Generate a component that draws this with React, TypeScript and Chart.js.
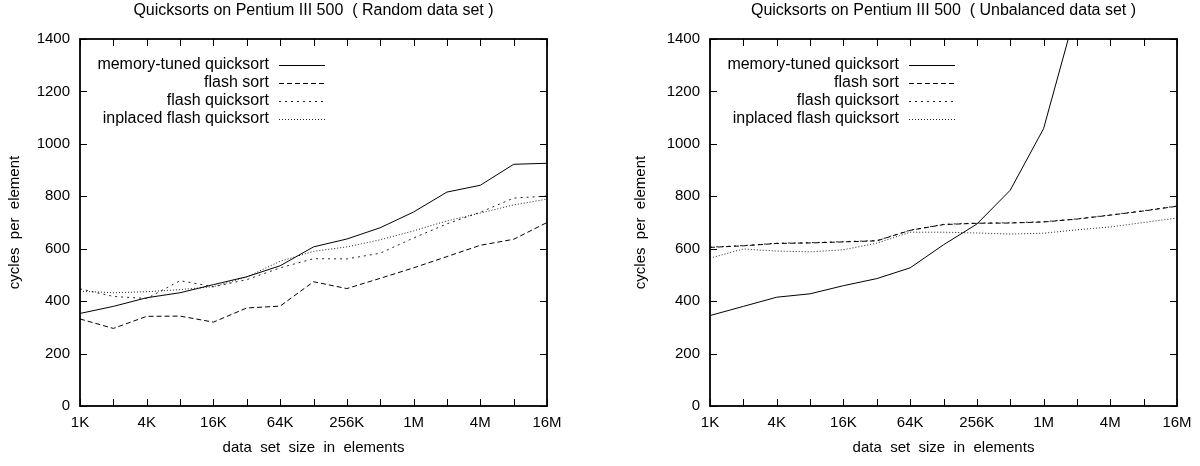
import React, { useEffect, useRef } from 'react';
import { Chart, registerables } from 'chart.js';

Chart.register(...registerables);

const FONT = '"Liberation Sans", Arial, Helvetica, sans-serif';

// x categories (data set size, powers of two)
const sizeLabels = ['1K', '2K', '4K', '8K', '16K', '32K', '64K', '128K', '256K', '512K', '1M', '2M', '4M', '8M', '16M'];

const seriesNames = ['memory-tuned quicksort', 'flash sort', 'flash quicksort', 'inplaced flash quicksort'];

// Random data set
const randomMemoryTuned = [353, 380, 413, 432, 463, 493, 535, 607, 637, 680, 740, 816, 842, 922, 926];
const randomFlashSort = [332, 296, 342, 343, 320, 374, 381, 474, 448, 487, 527, 570, 613, 636, 700];
const randomFlashQuick = [447, 418, 410, 478, 455, 482, 527, 562, 561, 583, 641, 695, 739, 793, 801];
const randomInplaced = [438, 432, 436, 444, 455, 492, 552, 590, 607, 634, 668, 706, 736, 767, 789];

// Unbalanced data set
const unbMemoryTuned = [345, 380, 415, 428, 459, 486, 527, 615, 694, 823, 1058, 1520, null, null, null];
const unbFlashSort = [605, 611, 620, 622, 626, 630, 670, 692, 697, 698, 702, 713, 728, 744, 762];
const unbFlashQuick = [606, 612, 621, 623, 627, 631, 671, 693, 698, 699, 703, 714, 729, 745, 763];
const unbInplaced = [564, 599, 591, 588, 596, 621, 663, 663, 660, 656, 659, 672, 683, 700, 717];

const titleRandom = 'Quicksorts on Pentium III 500  ( Random data set )';
const titleUnbalanced = 'Quicksorts on Pentium III 500  ( Unbalanced data set )';
const xTitle = 'data  set  size  in  elements';
const yTitle = 'cycles  per  element';

const lineStyles = [
  { dash: [] as number[], color: '#000' },
  { dash: [5, 3], color: '#000' },
  { dash: [2, 4], color: '#222' },
  { dash: [1, 2], color: '#222' },
];

function decorPlugin(titleText: string) {
  return {
    id: 'decor',
    afterDatasetsDraw(chart: any) {
      const { ctx, chartArea: a, scales } = chart;
      ctx.save();
      ctx.strokeStyle = '#000';
      // ticks (inward, mirrored)
      ctx.lineWidth = 1;
      ctx.beginPath();
      const xs = scales.x;
      for (let i = 0; i < sizeLabels.length; i++) {
        const px = Math.round(xs.getPixelForValue(i)) + 0.5;
        ctx.moveTo(px, a.bottom);
        ctx.lineTo(px, a.bottom - 7);
        ctx.moveTo(px, a.top);
        ctx.lineTo(px, a.top + 7);
      }
      const ys = scales.y;
      ys.ticks.forEach((t: any) => {
        const py = Math.round(ys.getPixelForValue(t.value)) + 0.5;
        ctx.moveTo(a.left, py);
        ctx.lineTo(a.left + 7, py);
        ctx.moveTo(a.right, py);
        ctx.lineTo(a.right - 7, py);
      });
      ctx.stroke();
      // frame
      ctx.lineWidth = 1.8;
      ctx.strokeRect(a.left, a.top, a.right - a.left, a.bottom - a.top);
      // title
      ctx.fillStyle = '#000';
      ctx.font = `16px ${FONT}`;
      ctx.textAlign = 'center';
      ctx.textBaseline = 'middle';
      ctx.fillText(titleText, (a.left + a.right) / 2, 11);
      // key
      ctx.font = `16px ${FONT}`;
      ctx.textAlign = 'right';
      chart.data.datasets.forEach((ds: any, i: number) => {
        const y = a.top + 26 + 18 * i;
        ctx.fillStyle = '#000';
        ctx.fillText(ds.label, a.left + 189, y);
        ctx.beginPath();
        ctx.setLineDash(ds.borderDash || []);
        ctx.strokeStyle = ds.borderColor;
        ctx.lineWidth = ds.borderWidth;
        ctx.moveTo(a.left + 199, Math.round(y) + 0.5);
        ctx.lineTo(a.left + 245, Math.round(y) + 0.5);
        ctx.stroke();
      });
      ctx.setLineDash([]);
      ctx.restore();
    },
  };
}

function buildConfig(series: (number | null)[][], titleText: string, padLeft: number, yWidth: number, padRight: number) {
  const tickFont = { family: FONT, size: 15 };
  return {
    type: 'line' as const,
    data: {
      labels: sizeLabels,
      datasets: series.map((values, i) => ({
        label: seriesNames[i],
        data: values,
        borderColor: lineStyles[i].color,
        borderDash: lineStyles[i].dash,
        borderWidth: 1,
        pointRadius: 0,
        fill: false,
        tension: 0,
        spanGaps: false,
      })),
    },
    options: {
      animation: false as const,
      responsive: false,
      devicePixelRatio: 1,
      layout: { padding: { left: padLeft, right: padRight, top: 39, bottom: 0 } },
      plugins: {
        legend: { display: false },
        tooltip: { enabled: false },
        title: { display: false },
      },
      scales: {
        x: {
          type: 'category' as const,
          offset: false,
          grid: { display: false, drawTicks: false },
          border: { display: false },
          ticks: {
            autoSkip: false,
            maxRotation: 0,
            minRotation: 0,
            padding: 8,
            color: '#000',
            font: tickFont,
            callback: (_v: any, i: number) => (i % 2 === 0 ? sizeLabels[i] : ''),
          },
          title: { display: true, text: xTitle, color: '#000', font: tickFont, padding: { top: 0, bottom: 9 } },
          afterFit: (s: any) => {
            s.height = 60;
          },
        },
        y: {
          min: 0,
          max: 1400,
          grid: { display: false, drawTicks: false },
          border: { display: false },
          ticks: {
            stepSize: 200,
            padding: 10,
            color: '#000',
            font: tickFont,
            callback: (v: any) => String(v),
          },
          title: { display: true, text: yTitle, color: '#000', font: tickFont, padding: { top: 6, bottom: 0 } },
          afterFit: (s: any) => {
            s.width = yWidth;
          },
        },
      },
    },
    plugins: [decorPlugin(titleText)],
  };
}

function ChartCanvas(props: { series: (number | null)[][]; title: string; padLeft: number; yWidth: number; padRight: number; left: number }) {
  const ref = useRef<HTMLCanvasElement | null>(null);
  useEffect(() => {
    if (!ref.current) return;
    const chart = new Chart(ref.current, buildConfig(props.series, props.title, props.padLeft, props.yWidth, props.padRight) as any);
    return () => chart.destroy();
  }, []);
  return (
    <canvas
      ref={ref}
      width={600}
      height={466}
      style={{ position: 'absolute', left: props.left, top: 0, width: 600, height: 466 }}
    />
  );
}

export default function App() {
  return (
    <div style={{ position: 'absolute', left: 0, top: 0, width: 1200, height: 466, background: '#fff', overflow: 'hidden' }}>
      <ChartCanvas
        series={[randomMemoryTuned, randomFlashSort, randomFlashQuick, randomInplaced]}
        title={titleRandom}
        padLeft={0}
        yWidth={80}
        padRight={53}
        left={0}
      />
      <ChartCanvas
        series={[unbMemoryTuned, unbFlashSort, unbFlashQuick, unbInplaced]}
        title={titleUnbalanced}
        padLeft={26}
        yWidth={84}
        padRight={23}
        left={600}
      />
    </div>
  );
}
